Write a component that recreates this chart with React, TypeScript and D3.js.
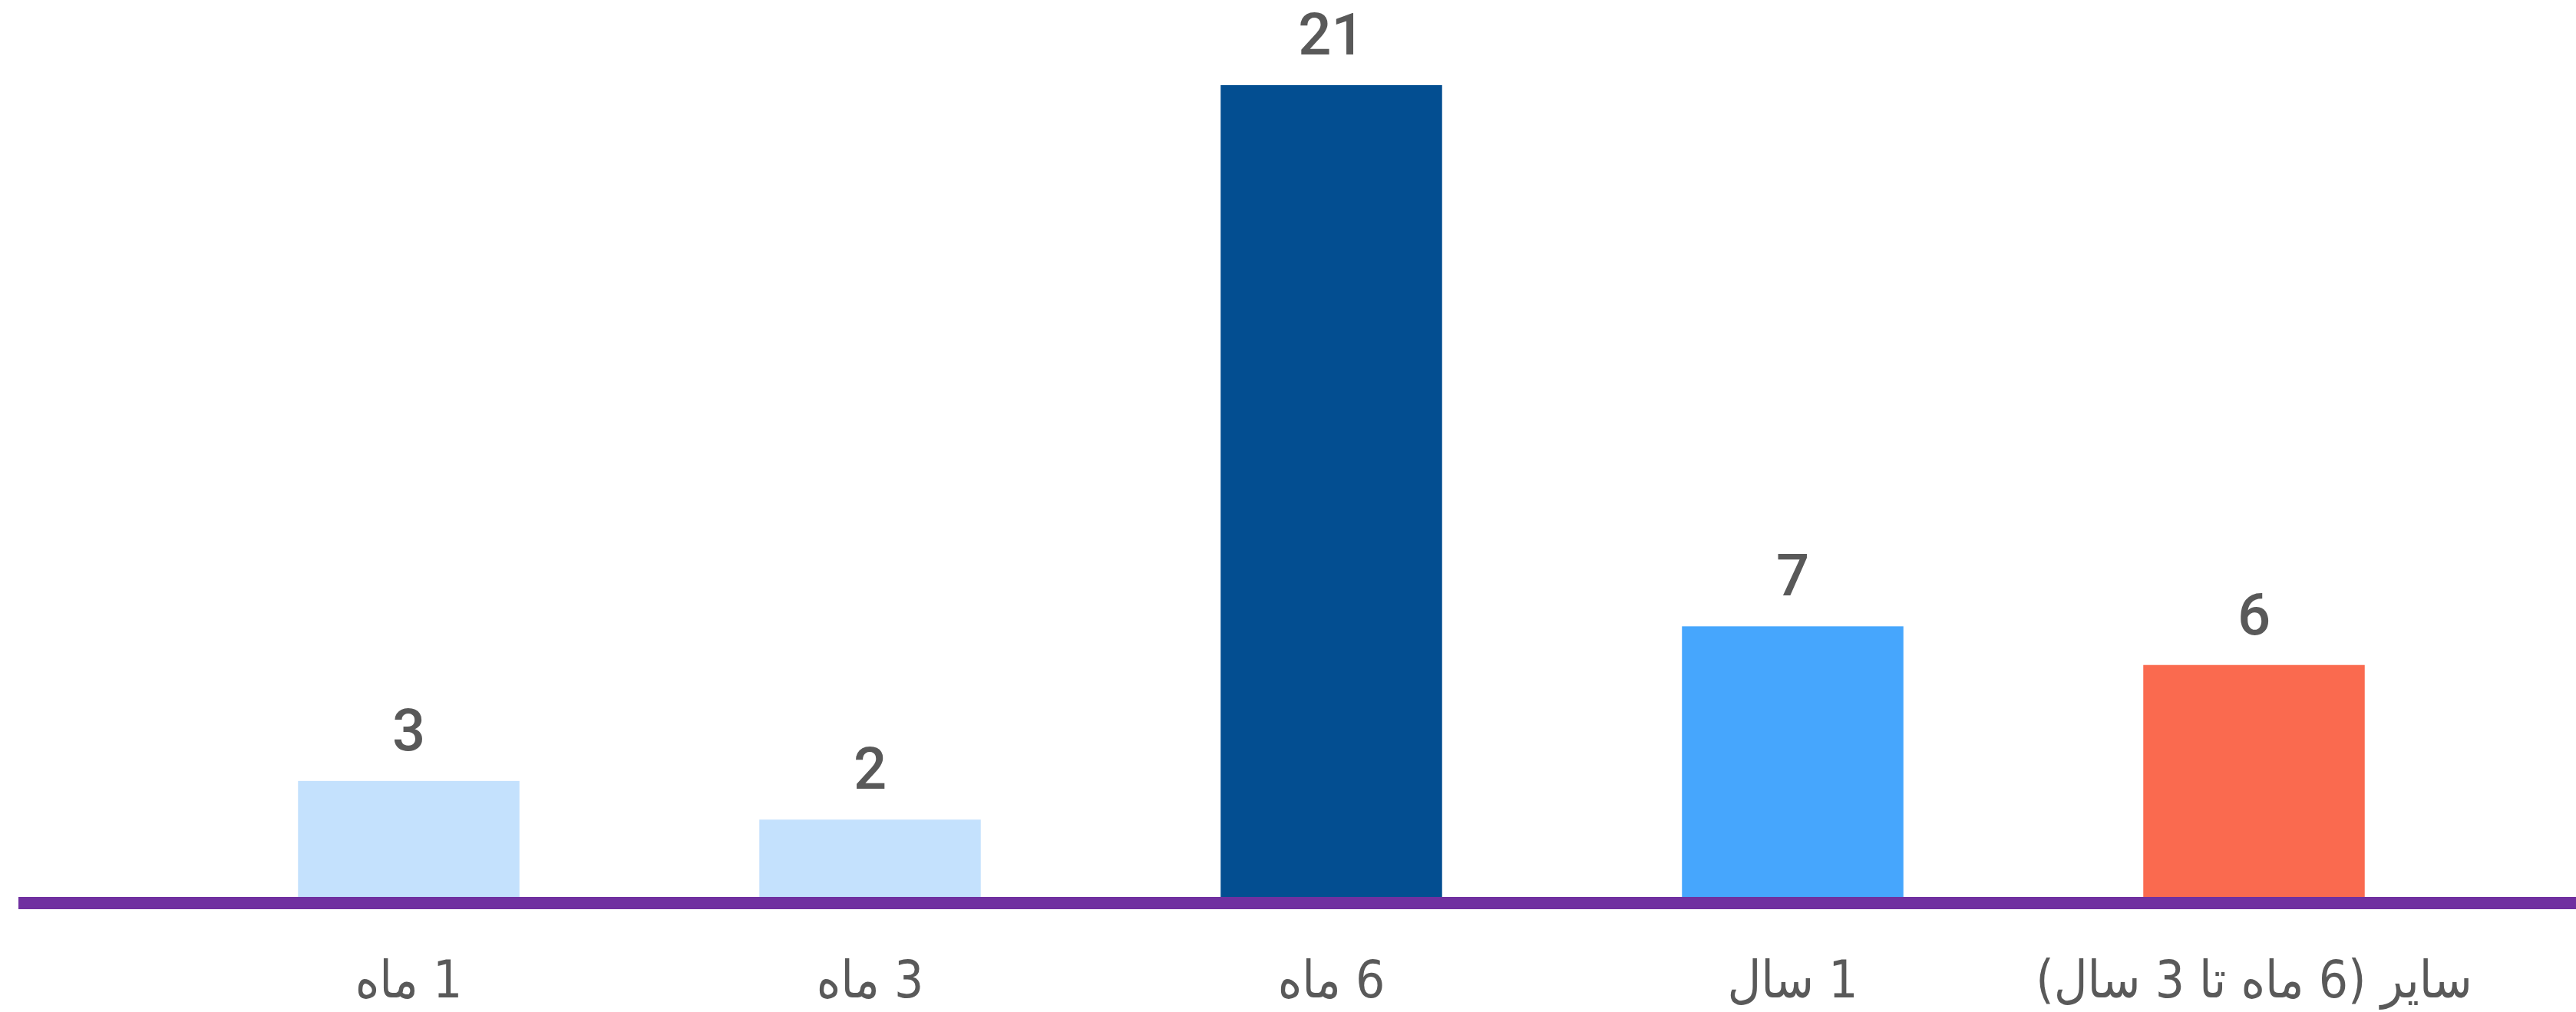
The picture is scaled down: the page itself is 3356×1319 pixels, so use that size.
import * as d3 from 'd3';

const categories = ['1 ماه', '3 ماه', '6 ماه', '1 سال', 'سایر (6 ماه تا 3 سال)'];
const counts = [3, 2, 21, 7, 6];

const barColors = ['#C4E1FD', '#C4E1FD', '#034E91', '#46A6FD', '#FA6A4F'];

const W = 3356;
const H = 1319;
const baseY = 1169;
const topY = 111;
const textColor = '#595959';

export default function App(): React.ReactNode {
  const x = d3
    .scaleBand<string>()
    .domain(categories)
    .range([232, 3237])
    .paddingInner(0.52)
    .paddingOuter(0.26);
  const y = d3
    .scaleLinear()
    .domain([0, d3.max(counts) ?? 1])
    .range([baseY, topY]);

  return (
    <div style={{ position: 'absolute', left: 0, top: 0 }}>
      <svg width={W} height={H} viewBox={`0 0 ${W} ${H}`} style={{ display: 'block', background: '#fff' }}>
        {categories.map((c, i) => {
          const x0 = x(c) ?? 0;
          return (
            <g key={c}>
              <rect
                x={x0}
                y={y(counts[i])}
                width={x.bandwidth()}
                height={y(0) - y(counts[i])}
                fill={barColors[i]}
              />
              <text
                x={x0 + x.bandwidth() / 2}
                y={y(counts[i]) - 40}
                textAnchor="middle"
                fontFamily="Roboto, 'DejaVu Sans', sans-serif"
                fontWeight={500}
                fontSize={76}
                fill={textColor}
              >
                {counts[i]}
              </text>
              <text
                x={x0 + x.bandwidth() / 2}
                y={1300}
                textAnchor="middle"
                direction="rtl"
                fontFamily="'DejaVu Sans Condensed', 'DejaVu Sans', sans-serif"
                fontSize={67}
                fill={textColor}
              >
                {c}
              </text>
            </g>
          );
        })}
        {/* baseline */}
        <line x1={24} x2={W} y1={baseY + 8} y2={baseY + 8} stroke="#7030A0" strokeWidth={16} />
      </svg>
    </div>
  );
}
